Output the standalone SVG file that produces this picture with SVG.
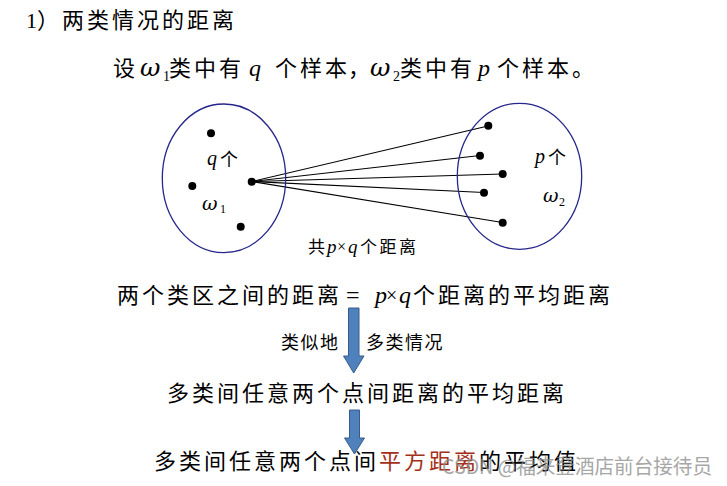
<svg xmlns="http://www.w3.org/2000/svg" width="727" height="486" viewBox="0 0 727 486">
<style>
.cjk{font-family:"Noto Sans CJK SC","Noto Sans",sans-serif;fill:#000;font-size:22px;letter-spacing:3px}
.sm{font-size:18px;letter-spacing:1.5px}
.xs{font-size:17px;letter-spacing:2.5px}
.it{font-family:"Liberation Serif",serif;font-style:italic;fill:#000}
.om{font-family:"DejaVu Serif",serif;font-style:italic;fill:#000}
.rm{font-family:"Liberation Serif",serif;fill:#000}
.ell{fill:none;stroke:#26268c;stroke-width:1.3}
.dot{fill:#000}
.con{stroke:#000;stroke-width:1.1}
.arrow{fill:#4f81bd;stroke:#385d8a;stroke-width:1}
.red{fill:#a3301a}
.wm{font-family:"Noto Sans CJK SC","Noto Sans",sans-serif;fill:#8a8a8a;opacity:0.75;font-size:20px}
</style>
<rect width="727" height="486" fill="#fff"/>

<g id="title">
<text class="rm" x="26" y="28" font-size="22">1</text>
<text class="cjk" x="37" y="28">）</text>
<text class="cjk" x="62" y="28">两类情况的距离</text>
</g>

<g id="intro">
<text class="cjk" x="113" y="76">设</text>
<text class="om" x="140" y="76" font-size="25">ω</text>
<text class="rm" x="163" y="81" font-size="14">1</text>
<text class="cjk" x="169" y="76">类中有</text>
<text class="it" x="249" y="76" font-size="24">q</text>
<text class="cjk" x="275" y="76">个样本</text>
<text class="cjk" x="348" y="76" style="letter-spacing:0">，</text>
<text class="om" x="370" y="76" font-size="25">ω</text>
<text class="rm" x="393" y="81" font-size="14">2</text>
<text class="cjk" x="400" y="76">类中有</text>
<text class="it" x="478" y="76" font-size="24">p</text>
<text class="cjk" x="497" y="76">个样本。</text>
</g>

<g id="connectors">
<line class="con" x1="252" y1="181.5" x2="488" y2="126"/>
<line class="con" x1="252" y1="181.5" x2="480" y2="155.5"/>
<line class="con" x1="252" y1="181.5" x2="502.5" y2="174"/>
<line class="con" x1="252" y1="181.5" x2="484" y2="192.5"/>
<line class="con" x1="252" y1="181.5" x2="502.5" y2="222.5"/>
</g>

<g id="class1">
<ellipse class="ell" cx="224" cy="178.3" rx="61.7" ry="74.3"/>
<circle class="dot" cx="211" cy="133.3" r="4"/>
<circle class="dot" cx="192.3" cy="186" r="4"/>
<circle class="dot" cx="251.7" cy="181.7" r="4"/>
<circle class="dot" cx="240.7" cy="226.7" r="4"/>
<text class="it" x="207" y="165" font-size="20">q</text>
<text class="cjk sm" x="220" y="166">个</text>
<text class="om" x="202" y="210" font-size="19">ω</text>
<text class="rm" x="220" y="213" font-size="12">1</text>
</g>

<g id="class2">
<ellipse class="ell" cx="519.5" cy="176.3" rx="62.2" ry="73"/>
<circle class="dot" cx="488.3" cy="125.7" r="4"/>
<circle class="dot" cx="480" cy="155.7" r="4"/>
<circle class="dot" cx="502.7" cy="174" r="4"/>
<circle class="dot" cx="484" cy="192.7" r="4"/>
<circle class="dot" cx="502.7" cy="222.7" r="4"/>
<text class="it" x="535" y="163" font-size="20">p</text>
<text class="cjk sm" x="548" y="164">个</text>
<text class="om" x="543" y="202" font-size="19">ω</text>
<text class="rm" x="559" y="206" font-size="12">2</text>
</g>

<g id="count-label">
<text class="cjk xs" x="308" y="253">共</text>
<text class="it" x="327" y="253" font-size="19">p</text>
<text class="rm" x="337" y="252" font-size="16">×</text>
<text class="it" x="348" y="253" font-size="19">q</text>
<text class="cjk xs" x="360" y="253">个距离</text>
</g>

<g id="statement">
<text class="cjk" x="117" y="303">两个类区之间的距离</text>
<text class="rm" x="346" y="303" font-size="24">=</text>
<text class="it" x="375" y="303" font-size="24">p</text>
<text class="rm" x="386" y="302" font-size="20">×</text>
<text class="it" x="399" y="303" font-size="24">q</text>
<text class="cjk" x="413" y="303">个距离的平均距离</text>
</g>

<g id="arrow1">
<path class="arrow" d="M348.5,308 H359 V356 H364 L353.7,373 L343.5,356 H348.5 Z"/>
<text class="cjk sm" x="281" y="349">类似地</text>
<text class="cjk sm" x="366" y="349">多类情况</text>
</g>

<g id="multi1">
<text class="cjk" x="167" y="401">多类间任意两个点间距离的平均距离</text>
</g>

<g id="arrow2">
<path class="arrow" d="M349.5,410 H359.5 V438 H364.5 L354.5,454 L344.5,438 H349.5 Z"/>
</g>

<g id="multi2">
<text class="cjk" x="154" y="469">多类间任意两个点间<tspan class="red">平方距离</tspan>的平均值</text>
</g>

<text class="wm" x="442" y="474" textLength="270" lengthAdjust="spacingAndGlyphs">CSDN @福来登酒店前台接待员</text>
</svg>
